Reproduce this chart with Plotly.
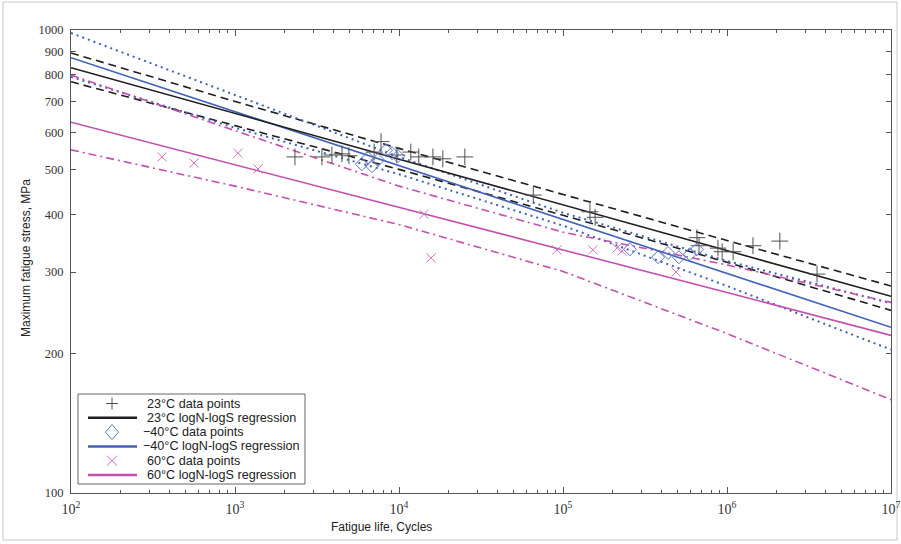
import plotly.graph_objects as go

# ---------------- data ----------------
# 23 C data points
n23 = [2320, 3390, 3900, 4490, 4950, 7050, 7770, 9700, 11800, 13200, 16100, 18500, 25200,
       65900, 146000, 157000, 656000, 675000, 881000, 934000, 1090000, 1440000, 2100000, 3540000]
s23 = [532, 532, 537, 540, 535, 545, 574, 537, 545, 532, 532, 527, 532,
       440, 405, 394, 356, 342, 338, 332, 332, 342, 350, 297]

# -40 C data points
n40 = [5940, 6470, 6850, 7440, 8330, 9070, 9860, 256000, 380000, 437000, 509000, 594000, 656000]
s40 = [513, 529, 508, 524, 550, 542, 534, 336, 323, 330, 323, 328, 336]

# 60 C data points
n60 = [359, 562, 1043, 1380, 14200, 15700, 91900, 152000, 213000, 229000, 489000]
s60 = [532, 516, 542, 501, 400, 322, 335, 335, 338, 333, 300]

# regression lines and bounds, read at each decade of life
nfit = [1e2, 1e3, 1e4, 1e5, 1e6, 1e7]
fit23 = [829, 660, 526, 419, 334, 266]
up23 = [892, 701, 555, 441, 351, 280]
lo23 = [773, 622, 500, 398, 315, 248]
fit40 = [871, 666, 510, 390, 298, 228]
up40 = [985, 723, 532, 403, 317, 257]
lo40 = [792, 615, 488, 378, 280, 204]
fit60 = [632, 512, 414, 335, 271, 219]
up60 = [799, 606, 460, 366, 311, 258]
lo60 = [551, 460, 380, 301, 221, 159]

x_ticks = [1e2, 1e3, 1e4, 1e5, 1e6, 1e7]
x_tick_text = ["10<sup>2</sup>", "10<sup>3</sup>", "10<sup>4</sup>",
               "10<sup>5</sup>", "10<sup>6</sup>", "10<sup>7</sup>"]
y_ticks = [100, 200, 300, 400, 500, 600, 700, 800, 900, 1000]
y_tick_text = [str(v) for v in y_ticks]

legend_labels = ["23°C data points", "23°C logN-logS regression",
                 "\u221240°C data points", "\u221240°C logN-logS regression",
                 "60°C data points", "60°C logN-logS regression"]

# ---------------- styling ----------------
BLACK = "#1e1e1e"
BLUE = "#3f62b8"
MAG = "#c44fae"
PLUS_C = "#505050"
DIA_C = "#5d74c4"
X_C = "#d072c2"
AXC = "#555555"

W, H = 901, 544
L, R, T, B = 71, 10, 30, 51
PW, PH = W - L - R, H - T - B

fig = go.Figure()


def add_line(n, s, color, dash, width):
    fig.add_trace(go.Scatter(x=n, y=s, mode="lines",
                             line=dict(color=color, dash=dash, width=width),
                             showlegend=False, hoverinfo="skip"))


DASH = "8px,5px"
DOT = "2px,4px"
DASHDOT = "8px,4px,2px,4px"

add_line(nfit, up23, BLACK, DASH, 1.6)
add_line(nfit, lo23, BLACK, DASH, 1.6)
add_line(nfit, up40, BLUE, DOT, 2)
add_line(nfit, lo40, BLUE, DOT, 2)
add_line(nfit, up60, MAG, DASHDOT, 1.6)
add_line(nfit, lo60, MAG, DASHDOT, 1.6)
add_line(nfit, fit60, MAG, "solid", 1.6)
add_line(nfit, fit40, BLUE, "solid", 1.6)
add_line(nfit, fit23, BLACK, "solid", 1.6)

fig.add_trace(go.Scatter(x=n23, y=s23, mode="markers", showlegend=False, hoverinfo="skip",
                         marker=dict(symbol="cross-thin", size=12,
                                     line=dict(color=PLUS_C, width=1))))
fig.add_trace(go.Scatter(x=n40, y=s40, mode="markers", showlegend=False, hoverinfo="skip",
                         marker=dict(symbol="diamond-open", size=10, color=DIA_C,
                                     line=dict(color=DIA_C, width=1))))
fig.add_trace(go.Scatter(x=n60, y=s60, mode="markers", showlegend=False, hoverinfo="skip",
                         marker=dict(symbol="x-thin", size=9,
                                     line=dict(color=X_C, width=1))))


# ---------------- manual legend (pixel -> paper) ----------------
def px(x):
    return (x - L) / PW


def py(y):
    return (H - B - y) / PH


shapes = []
shapes.append(dict(type="rect", xref="paper", yref="paper",
                   x0=px(78), x1=px(305), y0=py(484), y1=py(394),
                   line=dict(color="#666666", width=1), fillcolor="white", layer="above"))

row_y = [403.5, 417.8, 432.1, 446.4, 460.7, 475.0]
mx = 112
# plus
shapes.append(dict(type="line", xref="paper", yref="paper", x0=px(mx - 6), x1=px(mx + 6),
                   y0=py(row_y[0]), y1=py(row_y[0]), line=dict(color=PLUS_C, width=1), layer="above"))
shapes.append(dict(type="line", xref="paper", yref="paper", x0=px(mx), x1=px(mx),
                   y0=py(row_y[0] - 6), y1=py(row_y[0] + 6), line=dict(color=PLUS_C, width=1), layer="above"))
# diamond
yc = row_y[2]
shapes.append(dict(type="path", xref="paper", yref="paper",
                   path=f"M {px(mx - 6.5)} {py(yc)} L {px(mx)} {py(yc - 7.5)} L {px(mx + 6.5)} {py(yc)} L {px(mx)} {py(yc + 7.5)} Z",
                   line=dict(color=DIA_C, width=1), layer="above"))
# x
yc = row_y[4]
shapes.append(dict(type="line", xref="paper", yref="paper", x0=px(mx - 5), x1=px(mx + 5),
                   y0=py(yc - 5), y1=py(yc + 5), line=dict(color=X_C, width=1), layer="above"))
shapes.append(dict(type="line", xref="paper", yref="paper", x0=px(mx - 5), x1=px(mx + 5),
                   y0=py(yc + 5), y1=py(yc - 5), line=dict(color=X_C, width=1), layer="above"))
# line samples
for yy, col, wdt in [(row_y[1], BLACK, 2.5), (row_y[3], BLUE, 2.5), (row_y[5], MAG, 2.5)]:
    shapes.append(dict(type="line", xref="paper", yref="paper", x0=px(88), x1=px(137),
                       y0=py(yy), y1=py(yy), line=dict(color=col, width=wdt), layer="above"))

# figure frame
shapes.append(dict(type="rect", xref="paper", yref="paper",
                   x0=px(3), x1=px(897), y0=py(540), y1=py(2),
                   line=dict(color="#c8c8c8", width=1), layer="below"))

annotations = []
for i, (lab, yy) in enumerate(zip(legend_labels, row_y)):
    xl = 141 if "\u2212" in lab else 145
    annotations.append(dict(text=lab, xref="paper", yref="paper", x=px(xl), y=py(yy),
                            xanchor="left", yanchor="middle", showarrow=False,
                            font=dict(family="Liberation Sans, Arial", size=12.6, color="#222222")))

annotations.append(dict(text="Fatigue life, Cycles", xref="paper", yref="paper",
                        x=px(381), y=py(527), xanchor="center", yanchor="middle", showarrow=False,
                        font=dict(family="Liberation Sans, Arial", size=12, color="#222222")))
annotations.append(dict(text="Maximum fatigue stress, MPa", xref="paper", yref="paper",
                        x=px(26), y=py(258), xanchor="center", yanchor="middle", showarrow=False,
                        textangle=-90,
                        font=dict(family="Liberation Sans, Arial", size=12, color="#222222")))

minor_x = [m * 10 ** e for e in range(2, 7) for m in range(2, 10)]

fig.update_layout(
    width=W, height=H, autosize=False,
    margin=dict(l=L, r=R, t=T, b=B, autoexpand=False),
    paper_bgcolor="white", plot_bgcolor="white",
    showlegend=False,
    shapes=shapes, annotations=annotations,
    xaxis=dict(type="log", range=[2, 7], showgrid=False, zeroline=False, automargin=False,
               showline=True, linecolor=AXC, linewidth=1, mirror="ticks",
               ticks="inside", ticklen=6, tickcolor=AXC, tickwidth=1,
               tickmode="array", tickvals=x_ticks, ticktext=x_tick_text,
               tickfont=dict(family="Liberation Serif, Times New Roman", size=14, color="#333333"),
               ticklabelstandoff=3,
               minor=dict(tickmode="array", tickvals=minor_x, ticks="inside", ticklen=3,
                          tickcolor=AXC, showgrid=False)),
    yaxis=dict(type="log", range=[2, 3], showgrid=False, zeroline=False, automargin=False,
               showline=True, linecolor=AXC, linewidth=1, mirror="ticks",
               ticks="inside", ticklen=5, tickcolor=AXC, tickwidth=1,
               tickmode="array", tickvals=y_ticks, ticktext=y_tick_text,
               tickfont=dict(family="Liberation Serif, Times New Roman", size=12.5, color="#333333"),
               ticklabelstandoff=4),
)

fig.write_html("out.html", config={"displayModeBar": False},
               post_script="document.body.style.margin='0px';document.body.style.overflow='hidden';")
